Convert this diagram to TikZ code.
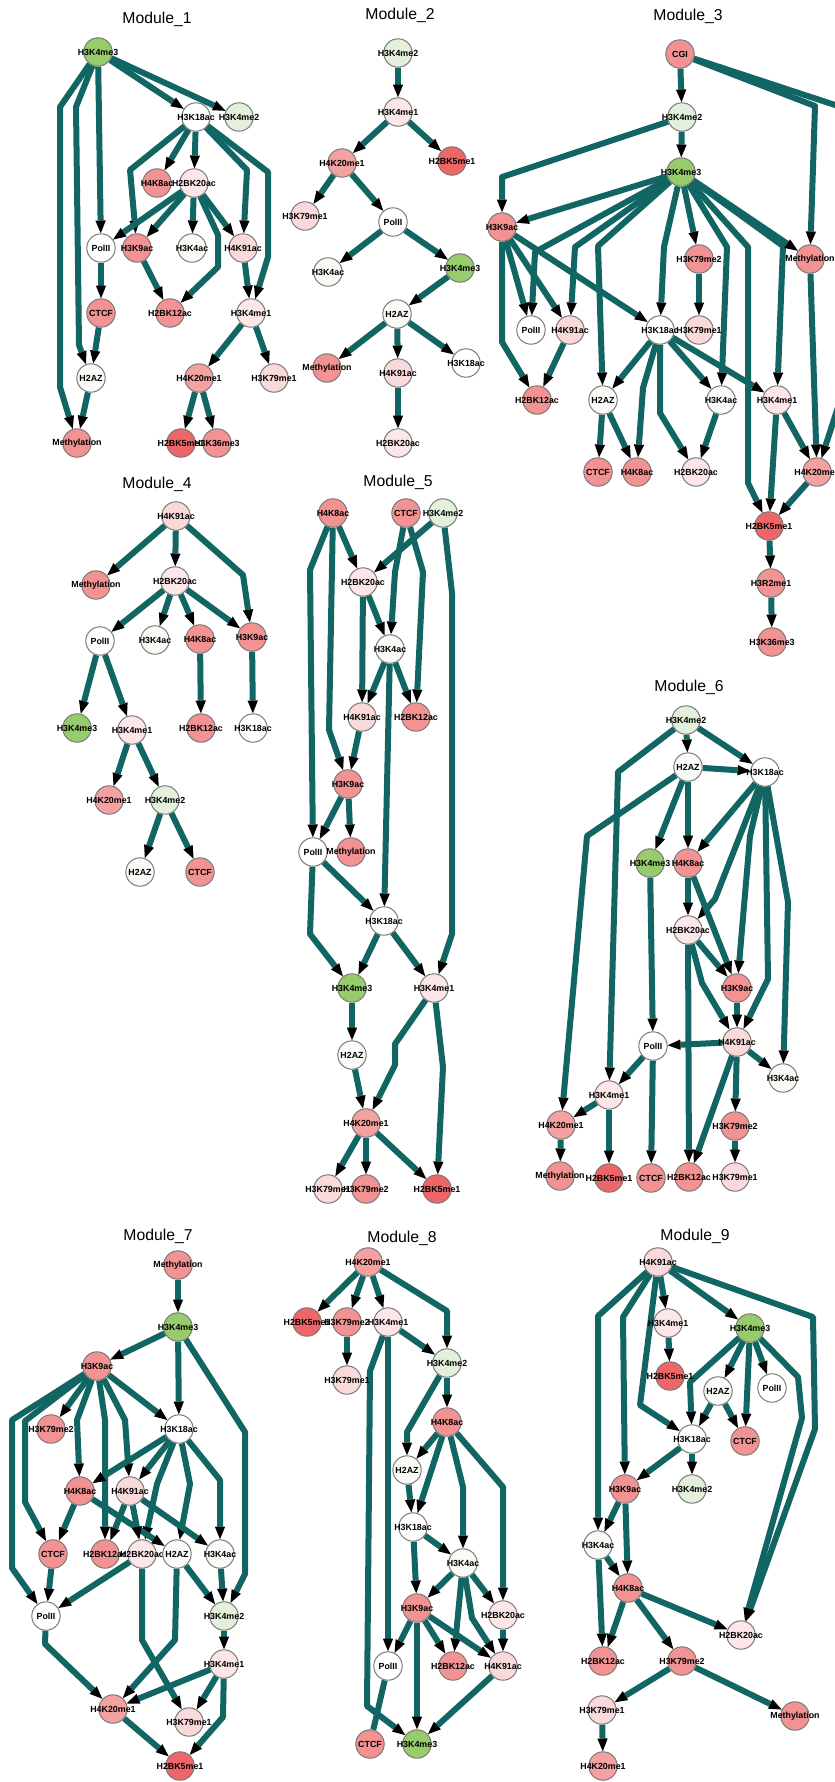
\documentclass[tikz,border=0pt]{standalone}
\usepackage{fontspec}
\setmainfont{Liberation Sans}
\usetikzlibrary{arrows.meta,backgrounds}
\definecolor{edgeteal}{RGB}{17,101,98}
\definecolor{ringgray}{RGB}{120,120,120}
\definecolor{cGreen}{RGB}{151,204,109}
\definecolor{cLtGreen}{RGB}{226,240,220}
\definecolor{cOff}{RGB}{248,251,246}
\definecolor{cPink}{RGB}{252,230,231}
\definecolor{cPinkB}{RGB}{250,217,219}
\definecolor{cRed}{RGB}{243,146,146}
\definecolor{cRedB}{RGB}{244,161,161}
\definecolor{cDark}{RGB}{238,102,104}
\tikzset{>={Triangle[length=3.2mm,width=2.6mm,line width=0pt,color=black]},
edge/.style={->, draw=edgeteal, line width=1.5mm, line join=round},
lbl/.style={font=\fontsize{6.3}{7}\selectfont\bfseries},
ttl/.style={font=\fontsize{11.2}{13}\selectfont},
hm/.style={circle, draw=ringgray, line width=0.25mm, minimum size=7.1mm, inner sep=0pt, label={[lbl]center:#1}},
H3K4me3/.style={hm=H3K4me3, fill=cGreen}, H3K4me2/.style={hm=H3K4me2, fill=cLtGreen},
H3K4me1/.style={hm=H3K4me1, fill=cPink}, H3K18ac/.style={hm=H3K18ac, fill=white},
PolII/.style={hm=PolII, fill=white}, H3K4ac/.style={hm=H3K4ac, fill=cOff},
H2AZ/.style={hm=H2AZ, fill=cOff}, H2BK20ac/.style={hm=H2BK20ac, fill=cPink},
H4K91ac/.style={hm=H4K91ac, fill=cPinkB}, H3K79me1/.style={hm=H3K79me1, fill=cPinkB},
H4K8ac/.style={hm=H4K8ac, fill=cRed}, H3K9ac/.style={hm=H3K9ac, fill=cRed},
CTCF/.style={hm=CTCF, fill=cRed}, H2BK12ac/.style={hm=H2BK12ac, fill=cRed},
Methylation/.style={hm=Methylation, fill=cRed}, H3K36me3/.style={hm=H3K36me3, fill=cRed},
H3K79me2/.style={hm=H3K79me2, fill=cRed}, CGI/.style={hm=CGI, fill=cRed},
H3R2me1/.style={hm=H3R2me1, fill=cRed}, H4K20me1/.style={hm=H4K20me1, fill=cRedB},
H2BK5me1/.style={hm=H2BK5me1, fill=cDark}}

\begin{document}
\begin{tikzpicture}[x=0.25mm, y=-0.25mm]
\useasboundingbox (0,0) rectangle (835,1782);
\def\edg#1#2{\draw[edge] (#1) -- (#2);}
% Module 1
\node[ttl] (t1) at (157,19) {Module\_1};
\node[H3K4me3] (m1H3K4me3) at (98,52) {};
\node[H3K18ac] (m1H3K18ac) at (196,117) {};
\node[H3K4me2] (m1H3K4me2) at (239,117) {};
\node[H4K8ac] (m1H4K8ac) at (157,183) {};
\node[H2BK20ac] (m1H2BK20ac) at (194,183) {};
\node[PolII] (m1PolII) at (101,248) {};
\node[H3K9ac] (m1H3K9ac) at (137,248) {};
\node[H3K4ac] (m1H3K4ac) at (192,248) {};
\node[H4K91ac] (m1H4K91ac) at (243,248) {};
\node[CTCF] (m1CTCF) at (101,313) {};
\node[H2BK12ac] (m1H2BK12ac) at (170,313) {};
\node[H3K4me1] (m1H3K4me1) at (251,313) {};
\node[H2AZ] (m1H2AZ) at (91,378) {};
\node[H4K20me1] (m1H4K20me1) at (199,378) {};
\node[H3K79me1] (m1H3K79me1) at (274,378) {};
\node[Methylation] (m1Methylation) at (77,443) {};
\node[H2BK5me1] (m1H2BK5me1) at (181,443) {};
\node[H3K36me3] (m1H3K36me3) at (217,443) {};
\begin{scope}[on background layer]
\edg{m1H3K4me3}{m1H3K18ac}
\edg{m1H3K4me3}{m1H3K4me2}
\edg{m1H3K4me3}{m1PolII}
\draw[edge] (m1H3K4me3) -- (76,107) -- (79,345) -- (m1H2AZ);
\draw[edge] (m1H3K4me3) -- (60,107) -- (60,387) -- (m1Methylation);
\edg{m1H3K18ac}{m1H4K8ac}
\edg{m1H3K18ac}{m1H2BK20ac}
\draw[edge] (m1H3K18ac) -- (130,170) -- (m1H3K9ac);
\draw[edge] (m1H3K18ac) -- (247,170) -- (m1H4K91ac);
\draw[edge] (m1H3K18ac) -- (268,172) -- (268,257) -- (m1H3K4me1);
\edg{m1H2BK20ac}{m1PolII}
\edg{m1H2BK20ac}{m1H3K9ac}
\edg{m1H2BK20ac}{m1H3K4ac}
\edg{m1H2BK20ac}{m1H4K91ac}
\draw[edge] (m1H2BK20ac) -- (218,235) -- (218,267) -- (m1H2BK12ac);
\edg{m1H3K9ac}{m1H2BK12ac}
\edg{m1PolII}{m1CTCF}
\edg{m1CTCF}{m1H2AZ}
\edg{m1H4K91ac}{m1H3K4me1}
\edg{m1H3K4me1}{m1H4K20me1}
\edg{m1H3K4me1}{m1H3K79me1}
\edg{m1H4K20me1}{m1H2BK5me1}
\edg{m1H4K20me1}{m1H3K36me3}
\edg{m1H2AZ}{m1Methylation}
\end{scope}
% Module 2
\node[ttl] (t2) at (400,15) {Module\_2};
\node[H3K4me2] (m2H3K4me2) at (398,53) {};
\node[H3K4me1] (m2H3K4me1) at (398,112) {};
\node[H4K20me1] (m2H4K20me1) at (342,163) {};
\node[H2BK5me1] (m2H2BK5me1) at (452,161) {};
\node[H3K79me1] (m2H3K79me1) at (305,216) {};
\node[PolII] (m2PolII) at (393,222) {};
\node[H3K4ac] (m2H3K4ac) at (328,272) {};
\node[H3K4me3] (m2H3K4me3) at (460,268) {};
\node[H2AZ] (m2H2AZ) at (397,314) {};
\node[Methylation] (m2Methylation) at (327,368) {};
\node[H4K91ac] (m2H4K91ac) at (398,373) {};
\node[H3K18ac] (m2H3K18ac) at (466,363) {};
\node[H2BK20ac] (m2H2BK20ac) at (398,443) {};
\begin{scope}[on background layer]
\edg{m2H3K4me2}{m2H3K4me1}
\edg{m2H3K4me1}{m2H4K20me1}
\edg{m2H3K4me1}{m2H2BK5me1}
\edg{m2H4K20me1}{m2H3K79me1}
\edg{m2H4K20me1}{m2PolII}
\edg{m2PolII}{m2H3K4ac}
\edg{m2PolII}{m2H3K4me3}
\edg{m2H3K4me3}{m2H2AZ}
\edg{m2H2AZ}{m2Methylation}
\edg{m2H2AZ}{m2H4K91ac}
\edg{m2H2AZ}{m2H3K18ac}
\edg{m2H4K91ac}{m2H2BK20ac}
\end{scope}
% Module 3
\node[ttl] (t3) at (688,16) {Module\_3};
\node[CGI] (m3CGI) at (680,54) {};
\node[H3K4me2] (m3H3K4me2) at (682,117) {};
\node[H3K4me3] (m3H3K4me3) at (681,172) {};
\node[H3K9ac] (m3H3K9ac) at (502,227) {};
\node[H3K79me2] (m3H3K79me2) at (699,259) {};
\node[Methylation] (m3Methylation) at (810,259) {};
\node[PolII] (m3PolII) at (531,330) {};
\node[H4K91ac] (m3H4K91ac) at (570,330) {};
\node[H3K18ac] (m3H3K18ac) at (660,330) {};
\node[H3K79me1] (m3H3K79me1) at (699,330) {};
\node[H2BK12ac] (m3H2BK12ac) at (537,400) {};
\node[H2AZ] (m3H2AZ) at (603,400) {};
\node[H3K4ac] (m3H3K4ac) at (721,400) {};
\node[H3K4me1] (m3H3K4me1) at (777,400) {};
\node[CTCF] (m3CTCF) at (598,472) {};
\node[H4K8ac] (m3H4K8ac) at (637,472) {};
\node[H2BK20ac] (m3H2BK20ac) at (696,472) {};
\node[H4K20me1] (m3H4K20me1) at (817,472) {};
\node[H2BK5me1] (m3H2BK5me1) at (769,526) {};
\node[H3R2me1] (m3H3R2me1) at (771,583) {};
\node[H3K36me3] (m3H3K36me3) at (772,642) {};
\coordinate (m3out) at (905,128);
\coordinate (m3in) at (850,370);
\begin{scope}[on background layer]
\edg{m3CGI}{m3H3K4me2}
\draw[edge] (m3CGI) -- (815,106) -- (m3Methylation);
\edg{m3CGI}{m3out}
\edg{m3H3K4me2}{m3H3K4me3}
\draw[edge] (m3H3K4me2) -- (502,177) -- (m3H3K9ac);
\edg{m3H3K4me3}{m3H3K9ac}
\draw[edge] (m3H3K4me3) -- (535,252) -- (m3PolII);
\draw[edge] (m3H3K4me3) -- (575,247) -- (m3H4K91ac);
\draw[edge] (m3H3K4me3) -- (598,246) -- (m3H2AZ);
\draw[edge] (m3H3K4me3) -- (664,247) -- (m3H3K18ac);
\edg{m3H3K4me3}{m3H3K79me2}
\draw[edge] (m3H3K4me3) -- (727,247) -- (m3H3K4ac);
\draw[edge] (m3H3K4me3) -- (748,247) -- (748,483) -- (m3H2BK5me1);
\draw[edge] (m3H3K4me3) -- (783,246) -- (m3H3K4me1);
\edg{m3H3K4me3}{m3Methylation}
\edg{m3H3K9ac}{m3PolII}
\edg{m3H3K9ac}{m3H4K91ac}
\edg{m3H3K9ac}{m3H3K18ac}
\draw[edge] (m3H3K9ac) -- (502,342) -- (m3H2BK12ac);
\edg{m3H4K91ac}{m3H2BK12ac}
\edg{m3H3K79me2}{m3H3K79me1}
\edg{m3H3K18ac}{m3H2AZ}
\draw[edge] (m3H3K18ac) -- (643,388) -- (m3H4K8ac);
\draw[edge] (m3H3K18ac) -- (660,413) -- (m3H2BK20ac);
\edg{m3H3K18ac}{m3H3K4ac}
\edg{m3H3K18ac}{m3H3K4me1}
\edg{m3H2AZ}{m3CTCF}
\edg{m3H2AZ}{m3H4K8ac}
\edg{m3H3K4ac}{m3H2BK20ac}
\edg{m3H3K4me1}{m3H2BK5me1}
\edg{m3H3K4me1}{m3H4K20me1}
\edg{m3Methylation}{m3H4K20me1}
\edg{m3in}{m3H4K20me1}
\edg{m3H4K20me1}{m3H2BK5me1}
\edg{m3H2BK5me1}{m3H3R2me1}
\edg{m3H3R2me1}{m3H3K36me3}
\end{scope}
% Module 4
\node[ttl] (t4) at (157,484) {Module\_4};
\node[H4K91ac] (m4H4K91ac) at (176,516) {};
\node[Methylation] (m4Methylation) at (96,585) {};
\node[H2BK20ac] (m4H2BK20ac) at (175,581) {};
\node[PolII] (m4PolII) at (100,641) {};
\node[H3K4ac] (m4H3K4ac) at (155,640) {};
\node[H4K8ac] (m4H4K8ac) at (200,639) {};
\node[H3K9ac] (m4H3K9ac) at (252,637) {};
\node[H3K4me3] (m4H3K4me3) at (77,728) {};
\node[H3K4me1] (m4H3K4me1) at (132,730) {};
\node[H2BK12ac] (m4H2BK12ac) at (201,728) {};
\node[H3K18ac] (m4H3K18ac) at (253,728) {};
\node[H4K20me1] (m4H4K20me1) at (109,800) {};
\node[H3K4me2] (m4H3K4me2) at (165,800) {};
\node[H2AZ] (m4H2AZ) at (140,872) {};
\node[CTCF] (m4CTCF) at (200,872) {};
\begin{scope}[on background layer]
\edg{m4H4K91ac}{m4Methylation}
\edg{m4H4K91ac}{m4H2BK20ac}
\draw[edge] (m4H4K91ac) -- (243,575) -- (m4H3K9ac);
\edg{m4H2BK20ac}{m4PolII}
\edg{m4H2BK20ac}{m4H3K4ac}
\edg{m4H2BK20ac}{m4H4K8ac}
\edg{m4H2BK20ac}{m4H3K9ac}
\edg{m4PolII}{m4H3K4me3}
\edg{m4PolII}{m4H3K4me1}
\edg{m4H4K8ac}{m4H2BK12ac}
\edg{m4H3K9ac}{m4H3K18ac}
\edg{m4H3K4me1}{m4H4K20me1}
\edg{m4H3K4me1}{m4H3K4me2}
\edg{m4H3K4me2}{m4H2AZ}
\edg{m4H3K4me2}{m4CTCF}
\end{scope}
% Module 5
\node[ttl] (t5) at (398,482) {Module\_5};
\node[H4K8ac] (m5H4K8ac) at (333,513) {};
\node[CTCF] (m5CTCF) at (406,513) {};
\node[H3K4me2] (m5H3K4me2) at (443,513) {};
\node[H2BK20ac] (m5H2BK20ac) at (363,582) {};
\node[H3K4ac] (m5H3K4ac) at (390,649) {};
\node[H4K91ac] (m5H4K91ac) at (362,717) {};
\node[H2BK12ac] (m5H2BK12ac) at (416,717) {};
\node[H3K9ac] (m5H3K9ac) at (348,784) {};
\node[PolII] (m5PolII) at (313,852) {};
\node[Methylation] (m5Methylation) at (351,852) {};
\node[H3K18ac] (m5H3K18ac) at (384,921) {};
\node[H3K4me3] (m5H3K4me3) at (352,988) {};
\node[H3K4me1] (m5H3K4me1) at (434,988) {};
\node[H2AZ] (m5H2AZ) at (352,1055) {};
\node[H4K20me1] (m5H4K20me1) at (366,1123) {};
\node[H3K79me1] (m5H3K79me1) at (328,1189) {};
\node[H3K79me2] (m5H3K79me2) at (366,1189) {};
\node[H2BK5me1] (m5H2BK5me1) at (437,1189) {};
\begin{scope}[on background layer]
\edg{m5H4K8ac}{m5H2BK20ac}
\draw[edge] (m5H4K8ac) -- (310,570) -- (m5PolII);
\draw[edge] (m5H4K8ac) -- (329,730) -- (m5H3K9ac);
\draw[edge] (m5CTCF) -- (395,572) -- (m5H3K4ac);
\draw[edge] (m5CTCF) -- (423,572) -- (m5H2BK12ac);
\edg{m5H3K4me2}{m5H2BK20ac}
\draw[edge] (m5H3K4me2) -- (452,593) -- (452,934) -- (m5H3K4me1);
\edg{m5H2BK20ac}{m5H3K4ac}
\edg{m5H2BK20ac}{m5H4K91ac}
\edg{m5H3K4ac}{m5H4K91ac}
\edg{m5H3K4ac}{m5H2BK12ac}
\edg{m5H3K4ac}{m5H3K18ac}
\edg{m5H4K91ac}{m5H3K9ac}
\edg{m5H3K9ac}{m5PolII}
\edg{m5H3K9ac}{m5Methylation}
\edg{m5PolII}{m5H3K18ac}
\draw[edge] (m5PolII) -- (310,934) -- (m5H3K4me3);
\edg{m5H3K18ac}{m5H3K4me3}
\edg{m5H3K18ac}{m5H3K4me1}
\edg{m5H3K4me3}{m5H2AZ}
\edg{m5H2AZ}{m5H4K20me1}
\draw[edge] (m5H3K4me1) -- (395,1044) -- (395,1065) -- (m5H4K20me1);
\draw[edge] (m5H3K4me1) -- (443,1067) -- (m5H2BK5me1);
\edg{m5H4K20me1}{m5H3K79me1}
\edg{m5H4K20me1}{m5H3K79me2}
\edg{m5H4K20me1}{m5H2BK5me1}
\end{scope}
% Module 6
\node[ttl] (t6) at (689,687) {Module\_6};
\node[H3K4me2] (m6H3K4me2) at (686,720) {};
\node[H2AZ] (m6H2AZ) at (688,767) {};
\node[H3K18ac] (m6H3K18ac) at (765,772) {};
\node[H3K4me3] (m6H3K4me3) at (650,863) {};
\node[H4K8ac] (m6H4K8ac) at (688,863) {};
\node[H2BK20ac] (m6H2BK20ac) at (688,930) {};
\node[H3K9ac] (m6H3K9ac) at (737,988) {};
\node[PolII] (m6PolII) at (653,1046) {};
\node[H4K91ac] (m6H4K91ac) at (737,1042) {};
\node[H3K4ac] (m6H3K4ac) at (783,1078) {};
\node[H3K4me1] (m6H3K4me1) at (609,1095) {};
\node[H4K20me1] (m6H4K20me1) at (561,1125) {};
\node[H3K79me2] (m6H3K79me2) at (735,1126) {};
\node[Methylation] (m6Methylation) at (560,1176) {};
\node[H2BK5me1] (m6H2BK5me1) at (609,1178) {};
\node[CTCF] (m6CTCF) at (651,1178) {};
\node[H2BK12ac] (m6H2BK12ac) at (689,1177) {};
\node[H3K79me1] (m6H3K79me1) at (735,1177) {};
\begin{scope}[on background layer]
\edg{m6H3K4me2}{m6H2AZ}
\edg{m6H3K4me2}{m6H3K18ac}
\draw[edge] (m6H3K4me2) -- (618,772) -- (m6H3K4me1);
\edg{m6H2AZ}{m6H3K18ac}
\draw[edge] (m6H2AZ) -- (587,836) -- (m6H4K20me1);
\edg{m6H2AZ}{m6H3K4me3}
\edg{m6H2AZ}{m6H4K8ac}
\edg{m6H3K18ac}{m6H4K8ac}
\draw[edge] (m6H3K18ac) -- (715,899) -- (m6H2BK20ac);
\draw[edge] (m6H3K18ac) -- (750,836) -- (m6H3K9ac);
\draw[edge] (m6H3K18ac) -- (768,979) -- (m6H4K91ac);
\draw[edge] (m6H3K18ac) -- (788,902) -- (m6H3K4ac);
\edg{m6H4K8ac}{m6H2BK20ac}
\edg{m6H4K8ac}{m6H3K9ac}
\edg{m6H3K4me3}{m6PolII}
\edg{m6H2BK20ac}{m6H3K9ac}
\draw[edge] (m6H2BK20ac) -- (702,983) -- (m6H4K91ac);
\edg{m6H2BK20ac}{m6H2BK12ac}
\edg{m6H3K9ac}{m6H4K91ac}
\edg{m6H4K91ac}{m6PolII}
\edg{m6H4K91ac}{m6H3K4ac}
\edg{m6H4K91ac}{m6H2BK12ac}
\edg{m6H4K91ac}{m6H3K79me2}
\edg{m6PolII}{m6H3K4me1}
\edg{m6PolII}{m6CTCF}
\edg{m6H3K4me1}{m6H4K20me1}
\edg{m6H3K4me1}{m6H2BK5me1}
\edg{m6H4K20me1}{m6Methylation}
\edg{m6H3K79me2}{m6H3K79me1}
\end{scope}
% Module 7
\node[ttl] (t7) at (158,1236) {Module\_7};
\node[Methylation] (m7Methylation) at (178,1265) {};
\node[H3K4me3] (m7H3K4me3) at (178,1327) {};
\node[H3K9ac] (m7H3K9ac) at (97,1366) {};
\node[H3K79me2] (m7H3K79me2) at (51,1429) {};
\node[H3K18ac] (m7H3K18ac) at (179,1429) {};
\node[H4K8ac] (m7H4K8ac) at (80,1491) {};
\node[H4K91ac] (m7H4K91ac) at (130,1491) {};
\node[CTCF] (m7CTCF) at (53,1554) {};
\node[H2BK12ac] (m7H2BK12ac) at (105,1554) {};
\node[H2BK20ac] (m7H2BK20ac) at (142,1554) {};
\node[H2AZ] (m7H2AZ) at (177,1554) {};
\node[H3K4ac] (m7H3K4ac) at (220,1554) {};
\node[PolII] (m7PolII) at (46,1616) {};
\node[H3K4me2] (m7H3K4me2) at (224,1616) {};
\node[H3K4me1] (m7H3K4me1) at (224,1664) {};
\node[H4K20me1] (m7H4K20me1) at (113,1709) {};
\node[H3K79me1] (m7H3K79me1) at (189,1722) {};
\node[H2BK5me1] (m7H2BK5me1) at (180,1766) {};
\begin{scope}[on background layer]
\edg{m7Methylation}{m7H3K4me3}
\edg{m7H3K4me3}{m7H3K9ac}
\edg{m7H3K4me3}{m7H3K18ac}
\draw[edge] (m7H3K4me3) -- (245,1432) -- (245,1574) -- (m7H3K4me2);
\edg{m7H3K9ac}{m7H3K79me2}
\edg{m7H3K9ac}{m7H3K18ac}
\draw[edge] (m7H3K9ac) -- (12,1420) -- (12,1568) -- (m7PolII);
\draw[edge] (m7H3K9ac) -- (25,1421) -- (25,1502) -- (m7CTCF);
\draw[edge] (m7H3K9ac) -- (77,1420) -- (m7H4K8ac);
\draw[edge] (m7H3K9ac) -- (105,1420) -- (m7H2BK12ac);
\draw[edge] (m7H3K9ac) -- (125,1420) -- (m7H4K91ac);
\edg{m7H3K18ac}{m7H4K8ac}
\edg{m7H3K18ac}{m7H4K91ac}
\draw[edge] (m7H3K18ac) -- (157,1484) -- (m7H2BK20ac);
\draw[edge] (m7H3K18ac) -- (190,1484) -- (m7H2AZ);
\draw[edge] (m7H3K18ac) -- (220,1480) -- (m7H3K4ac);
\edg{m7H4K8ac}{m7CTCF}
\edg{m7H4K8ac}{m7H2AZ}
\edg{m7H4K91ac}{m7H2BK12ac}
\edg{m7H4K91ac}{m7H2BK20ac}
\edg{m7H4K91ac}{m7H3K4ac}
\edg{m7CTCF}{m7PolII}
\edg{m7H2BK20ac}{m7PolII}
\draw[edge] (m7H2BK20ac) -- (142,1640) -- (m7H3K79me1);
\draw[edge] (m7H2AZ) -- (175,1640) -- (m7H4K20me1);
\edg{m7H2AZ}{m7H3K4me2}
\edg{m7H3K4ac}{m7H3K4me2}
\edg{m7H3K4me2}{m7H3K4me1}
\draw[edge] (m7PolII) -- (45,1644) -- (m7H4K20me1);
\edg{m7H3K4me1}{m7H4K20me1}
\edg{m7H3K4me1}{m7H3K79me1}
\draw[edge] (m7H3K4me1) -- (223,1717) -- (m7H2BK5me1);
\edg{m7H4K20me1}{m7H2BK5me1}
\end{scope}
% Module 8
\node[ttl] (t8) at (402,1238) {Module\_8};
\node[H4K20me1] (m8H4K20me1) at (368,1262) {};
\node[H2BK5me1] (m8H2BK5me1) at (307,1322) {};
\node[H3K79me2] (m8H3K79me2) at (347,1322) {};
\node[H3K4me1] (m8H3K4me1) at (388,1322) {};
\node[H3K79me1] (m8H3K79me1) at (347,1380) {};
\node[H3K4me2] (m8H3K4me2) at (447,1363) {};
\node[H4K8ac] (m8H4K8ac) at (447,1422) {};
\node[H2AZ] (m8H2AZ) at (407,1470) {};
\node[H3K18ac] (m8H3K18ac) at (413,1527) {};
\node[H3K4ac] (m8H3K4ac) at (463,1563) {};
\node[H3K9ac] (m8H3K9ac) at (417,1608) {};
\node[H2BK20ac] (m8H2BK20ac) at (503,1615) {};
\node[PolII] (m8PolII) at (388,1666) {};
\node[H2BK12ac] (m8H2BK12ac) at (453,1666) {};
\node[H4K91ac] (m8H4K91ac) at (503,1666) {};
\node[CTCF] (m8CTCF) at (370,1744) {};
\node[H3K4me3] (m8H3K4me3) at (417,1744) {};
\begin{scope}[on background layer]
\edg{m8H4K20me1}{m8H2BK5me1}
\edg{m8H4K20me1}{m8H3K79me2}
\edg{m8H4K20me1}{m8H3K4me1}
\draw[edge] (m8H4K20me1) -- (447,1311) -- (m8H3K4me2);
\edg{m8H3K79me2}{m8H3K79me1}
\edg{m8H3K4me1}{m8H3K4me2}
\edg{m8H3K4me1}{m8PolII}
\draw[edge] (m8H3K4me1) -- (370,1371) -- (367,1706) -- (m8H3K4me3);
\edg{m8H3K4me2}{m8H4K8ac}
\draw[edge] (m8H3K4me2) -- (407,1432) -- (m8H2AZ);
\edg{m8H4K8ac}{m8H2AZ}
\edg{m8H4K8ac}{m8H3K18ac}
\draw[edge] (m8H4K8ac) -- (463,1487) -- (m8H3K4ac);
\draw[edge] (m8H4K8ac) -- (503,1487) -- (m8H2BK20ac);
\edg{m8H2AZ}{m8H3K18ac}
\edg{m8H3K18ac}{m8H3K4ac}
\edg{m8H3K18ac}{m8H3K9ac}
\edg{m8H3K4ac}{m8H3K9ac}
\edg{m8H3K4ac}{m8H2BK20ac}
\edg{m8H3K4ac}{m8H2BK12ac}
\draw[edge] (m8H3K4ac) -- (472,1618) -- (m8H4K91ac);
\edg{m8H2BK20ac}{m8H4K91ac}
\edg{m8H3K9ac}{m8PolII}
\edg{m8H3K9ac}{m8H3K4me3}
\edg{m8H3K9ac}{m8H2BK12ac}
\edg{m8H3K9ac}{m8H4K91ac}
\edg{m8H4K91ac}{m8H3K4me3}
\draw[edge, -] (m8PolII) -- (m8CTCF);
\end{scope}
% Module 9
\node[ttl] (t9) at (695,1236) {Module\_9};
\node[H4K91ac] (m9H4K91ac) at (658,1262) {};
\node[H3K4me1] (m9H3K4me1) at (668,1323) {};
\node[H3K4me3] (m9H3K4me3) at (750,1328) {};
\node[H2BK5me1] (m9H2BK5me1) at (670,1376) {};
\node[H2AZ] (m9H2AZ) at (718,1391) {};
\node[PolII] (m9PolII) at (772,1388) {};
\node[H3K18ac] (m9H3K18ac) at (692,1439) {};
\node[CTCF] (m9CTCF) at (745,1441) {};
\node[H3K9ac] (m9H3K9ac) at (625,1489) {};
\node[H3K4me2] (m9H3K4me2) at (692,1489) {};
\node[H3K4ac] (m9H3K4ac) at (598,1545) {};
\node[H4K8ac] (m9H4K8ac) at (628,1588) {};
\node[H2BK20ac] (m9H2BK20ac) at (741,1635) {};
\node[H2BK12ac] (m9H2BK12ac) at (603,1661) {};
\node[H3K79me2] (m9H3K79me2) at (682,1661) {};
\node[H3K79me1] (m9H3K79me1) at (602,1710) {};
\node[Methylation] (m9Methylation) at (795,1716) {};
\node[H4K20me1] (m9H4K20me1) at (603,1766) {};
\begin{scope}[on background layer]
\draw[edge] (m9H4K91ac) -- (598,1316) -- (m9H3K4ac);
\draw[edge] (m9H4K91ac) -- (623,1317) -- (m9H3K9ac);
\draw[edge] (m9H4K91ac) -- (640,1405) -- (m9H3K18ac);
\edg{m9H4K91ac}{m9H3K4me1}
\edg{m9H4K91ac}{m9H3K4me3}
\draw[edge] (m9H4K91ac) -- (813,1317) -- (815,1429) -- (m9H2BK20ac);
\edg{m9H3K4me1}{m9H2BK5me1}
\draw[edge] (m9H3K4me3) -- (690,1382) -- (m9H3K18ac);
\edg{m9H3K4me3}{m9H2AZ}
\edg{m9H3K4me3}{m9CTCF}
\edg{m9H3K4me3}{m9PolII}
\draw[edge] (m9H3K4me3) -- (798,1377) -- (802,1418) -- (m9H2BK20ac);
\edg{m9H2AZ}{m9H3K18ac}
\edg{m9H2AZ}{m9CTCF}
\edg{m9H3K18ac}{m9H3K9ac}
\edg{m9H3K18ac}{m9H3K4me2}
\edg{m9H3K9ac}{m9H3K4ac}
\edg{m9H3K9ac}{m9H4K8ac}
\edg{m9H3K4ac}{m9H4K8ac}
\edg{m9H3K4ac}{m9H2BK12ac}
\edg{m9H4K8ac}{m9H2BK12ac}
\edg{m9H4K8ac}{m9H2BK20ac}
\edg{m9H4K8ac}{m9H3K79me2}
\edg{m9H3K79me2}{m9H3K79me1}
\edg{m9H3K79me2}{m9Methylation}
\edg{m9H3K79me1}{m9H4K20me1}
\end{scope}
\end{tikzpicture}
\end{document}
